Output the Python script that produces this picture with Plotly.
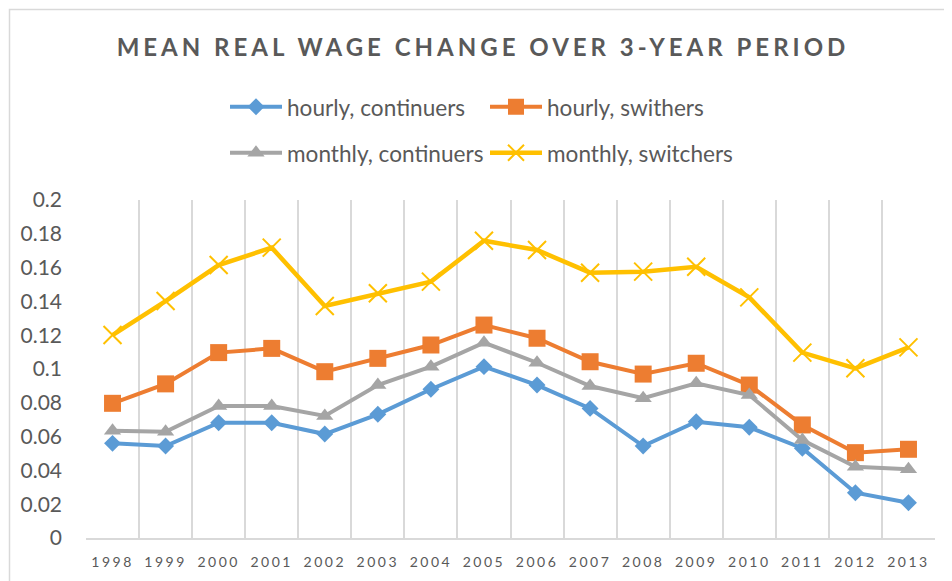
import plotly.graph_objects as go

years = ["1998","1999","2000","2001","2002","2003","2004","2005",
         "2006","2007","2008","2009","2010","2011","2012","2013"]
hourly_continuers = [0.056,0.0544,0.0682,0.0682,0.0615,0.0732,0.088,0.1014,
                     0.0905,0.0767,0.0544,0.0688,0.0655,0.0531,0.0268,0.0209]
hourly_switchers = [0.0797,0.0912,0.1097,0.1122,0.0984,0.1063,0.1142,0.126,
                    0.1182,0.1043,0.097,0.1034,0.0905,0.0669,0.0505,0.0525]
monthly_continuers = [0.0635,0.0629,0.0781,0.0781,0.0722,0.0905,0.1014,0.1156,
                      0.1037,0.0899,0.0827,0.0915,0.0846,0.058,0.0422,0.0407]
monthly_switchers = [0.1201,0.1402,0.1615,0.1718,0.1373,0.1448,0.1517,0.1759,
                     0.1704,0.157,0.1576,0.1605,0.1424,0.1097,0.1004,0.1128]
y_ticks = [0,0.02,0.04,0.06,0.08,0.1,0.12,0.14,0.16,0.18,0.2]
y_ticklabels = ["0","0.02","0.04","0.06","0.08","0.1","0.12","0.14","0.16","0.18","0.2"]

TXT = "#595959"
FONT = "Lato, 'Open Sans', sans-serif"

# the page body adds an 8px margin; figure is sized to fit the window
OFF = 8
W, H = 952 - OFF, 581 - OFF

series = [
    ("hourly, continuers", hourly_continuers, "#5B9BD5", "diamond", 13, "legend"),
    ("hourly, swithers", hourly_switchers, "#ED7D31", "square", 17, "legend2"),
    ("monthly, continuers", monthly_continuers, "#A5A5A5", "triangle-up", 15, "legend3"),
    ("monthly, switchers", monthly_switchers, "#FFC000", "x-thin-open", 18, "legend4"),
]

fig = go.Figure()
for name, vals, col, sym, sz, lg in series:
    if sym == "x-thin-open":
        marker = dict(symbol=sym, size=sz, color=col, line=dict(color=col, width=2))
        lw = 4.5
    else:
        marker = dict(symbol=sym, size=sz, color=col, line=dict(width=0))
        lw = 4
    fig.add_trace(go.Scatter(x=years, y=vals, name=name, mode="lines+markers",
                             line=dict(color=col, width=lw), marker=marker,
                             legend=lg))

# page pixel -> paper coordinates (plot area spans x 86..935, y 200..538 on page)
def px_x(p):
    return (p - 86) / 849.0

def px_y(p):
    return (538 - p) / 338.0

legend_common = dict(orientation="h", xanchor="left", yanchor="middle",
                     font=dict(family=FONT, size=22.6, color=TXT),
                     bgcolor="rgba(0,0,0,0)", borderwidth=0, itemwidth=52)
fig.update_layout(
    legend=dict(x=px_x(225), y=px_y(107), **legend_common),
    legend2=dict(x=px_x(485), y=px_y(107), **legend_common),
    legend3=dict(x=px_x(225), y=px_y(153), **legend_common),
    legend4=dict(x=px_x(485), y=px_y(153), **legend_common),
)

fig.update_layout(
    width=W, height=H,
    margin=dict(l=86 - OFF, r=W - (935 - OFF), t=200 - OFF, b=H - (538 - OFF),
                autoexpand=False),
    paper_bgcolor="white", plot_bgcolor="white",
    title=dict(text='<span style="letter-spacing:4px">MEAN REAL WAGE CHANGE OVER 3-YEAR PERIOD</span>',
               x=(483 - OFF) / W, xref="container", xanchor="center",
               y=1 - (48 - OFF) / H, yref="container", yanchor="middle",
               font=dict(family=FONT, size=24, color=TXT, weight="bold")),
    xaxis=dict(type="category", range=[-0.5, 15.5], tickson="boundaries",
               showgrid=True, gridcolor="#D9D9D9", gridwidth=1.5,
               showline=True, linecolor="#D9D9D9", linewidth=1.5,
               ticks="", tickvals=years, tickangle=0, automargin=False,
               ticktext=['<span style="letter-spacing:2.5px">%s</span>' % y for y in years],
               tickfont=dict(family=FONT, size=14, color=TXT),
               ticklabelstandoff=10, zeroline=False),
    yaxis=dict(range=[0, 0.2], tickvals=y_ticks, ticktext=y_ticklabels,
               showgrid=False, zeroline=False, showline=False, ticks="",
               automargin=False,
               tickfont=dict(family=FONT, size=21, color=TXT),
               ticklabelstandoff=23),
    showlegend=True,
)

fig.add_shape(type="rect", xref="paper", yref="paper",
              x0=px_x(9.5), x1=px_x(949), y0=px_y(600), y1=px_y(9.5),
              line=dict(color="#D9D9D9", width=1.5), layer="below")

fig.write_html("out.html")
